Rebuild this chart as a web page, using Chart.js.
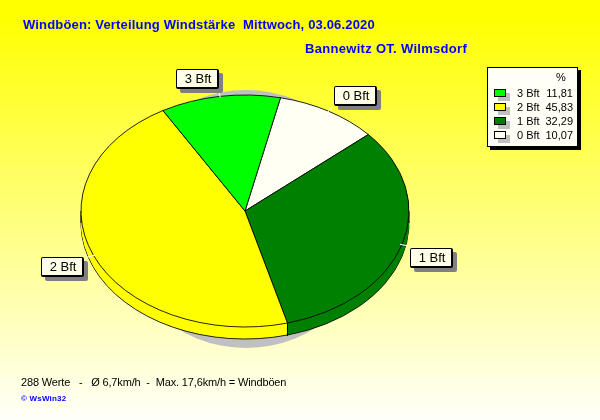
<!DOCTYPE html>
<html>
<head>
<meta charset="utf-8">
<script src="https://cdn.jsdelivr.net/npm/chart.js@4"></script>
<style>
    html, body { margin: 0; padding: 0; }
    body { width: 600px; height: 420px; position: relative; overflow: hidden; background: linear-gradient(to bottom, #ffff00 0px, #ffff00 15px, #fffffa 420px); font-family: "Liberation Sans", Arial, sans-serif; }
    canvas { position: absolute; left: 0; top: 0; }
    .txt { position: absolute; white-space: pre; line-height: 14px; }
    .title { color: #0000ff; font-weight: bold; font-size: 13px; }
    .tag { position: absolute; box-sizing: border-box; width: 43px; height: 20px; background: #ffffe8; border: 1px solid #000; border-right-width: 2px; border-bottom-width: 2px; border-radius: 2px; box-shadow: 4px 4px 0 #808080; font-size: 13px; line-height: 17px; text-align: center; color: #000; padding-left: 2px; }
    #legend { position: absolute; left: 487px; top: 67px; width: 91px; height: 80px; box-sizing: border-box; background: #fffff6; border: 1px solid #000; box-shadow: 3px 3px 0 #000; font-size: 11px; color: #000; }
    #legend .swatch { position: absolute; box-sizing: border-box; left: 6px; width: 12px; height: 8px; border: 1px solid #000; box-shadow: 4px 4px 0 #c0c0c0; }
    #legend .name { position: absolute; left: 29px; line-height: 14px; }
    #legend .pct { position: absolute; right: 4px; line-height: 14px; }
</style>
</head>
<body>
<canvas id="pie" width="600" height="420"></canvas>
<div class="txt title" style="left:23px; top:18px; letter-spacing:0.17px;">Windböen: Verteilung Windstärke  Mittwoch, 03.06.2020</div>
<div class="txt title" style="left:305px; top:42px; letter-spacing:0.3px;">Bannewitz OT. Wilmsdorf</div>
<div class="txt" style="left:21px; top:375px; font-size:11px; color:#000; letter-spacing:-0.15px;">288 Werte   -   Ø 6,7km/h  -  Max. 17,6km/h = Windböen</div>
<div class="txt" style="left:21px; top:392px; font-size:8px; font-weight:bold; color:#0000ff; letter-spacing:0.2px;">© WsWin32</div>
<div id="legend"></div>
<script>
// legend order, top to bottom
const categories = ['3 Bft', '2 Bft', '1 Bft', '0 Bft'];
const percents = [11.81, 45.83, 32.29, 10.07];
const sliceColors = ['#00ff00', '#ffff00', '#008000', '#fffff4'];
const tagLeft = [176, 41, 410, 334];
const tagTop = [69, 257, 248, 86];

const SQUASH = 116 / 164;   // pie is drawn as a flat ellipse
const DEPTH = 12;
const CY = 211;

// legend + slice tags
const legend = document.getElementById('legend');
let html = '<div class="name" style="left:68px; top:2px;">%</div>';
categories.forEach((c, i) => {
    const top = 21 + i * 14;
    html += `<div class="swatch" style="top:${top}px; background:${sliceColors[i]};"></div>`;
    html += `<div class="name" style="top:${top - 3}px;">${c}</div>`;
    html += `<div class="pct" style="top:${top - 3}px;">${percents[i].toFixed(2).replace('.', ',')}</div>`;
});
legend.innerHTML = html;

categories.forEach((c, i) => {
    const tag = document.createElement('div');
    tag.className = 'tag';
    tag.style.left = tagLeft[i] + 'px';
    tag.style.top = tagTop[i] + 'px';
    tag.textContent = c;
    document.body.appendChild(tag);
});

function flatten(ctx, dy) {
    ctx.translate(0, CY + dy);
    ctx.scale(1, SQUASH);
    ctx.translate(0, -CY);
}

// 3D rim and drop shadow, made from the chart's own arc elements
const pie3d = {
    id: 'pie3d',
    beforeDatasetsDraw(chart) {
        const ctx = chart.ctx;
        const arcs = chart.getDatasetMeta(0).data;
        const cx = arcs[0].x;
        const r = arcs[0].outerRadius;

        // shadow
        ctx.save();
        ctx.fillStyle = '#c0c0c0';
        ctx.beginPath();
        ctx.ellipse(cx + 1, CY + 8, 130, 129, 0, 0, Math.PI * 2);
        ctx.fill();
        ctx.restore();

        // bottom outline
        ctx.save();
        flatten(ctx, DEPTH);
        arcs.forEach(a => a.draw(ctx));
        ctx.restore();

        // body of the rim
        for (let d = DEPTH - 1; d > 0; d--) {
            ctx.save();
            flatten(ctx, d);
            arcs.forEach(a => {
                const bw = a.options.borderWidth;
                a.options.borderWidth = 0;
                a.draw(ctx);
                a.options.borderWidth = bw;
            });
            ctx.restore();
        }

        // visible edges of the rim
        ctx.save();
        ctx.strokeStyle = '#000';
        ctx.lineWidth = 1;
        ctx.beginPath();
        [cx - r, cx + r].forEach(x => {
            ctx.moveTo(x, CY);
            ctx.lineTo(x, CY + DEPTH);
        });
        arcs.forEach(a => {
            const s = Math.sin(a.endAngle), c = Math.cos(a.endAngle);
            if (s > 0) {
                const x = cx + r * c, y = CY + r * s * SQUASH;
                ctx.moveTo(x, y);
                ctx.lineTo(x, y + DEPTH + 1);
            }
        });
        ctx.stroke();
        ctx.restore();

        ctx.save();
        flatten(ctx, 0);
    },
    afterDatasetsDraw(chart) {
        const ctx = chart.ctx;
        ctx.restore();

        // white ticks from each slice towards its tag
        const arcs = chart.getDatasetMeta(0).data;
        ctx.save();
        ctx.strokeStyle = '#ffffff';
        ctx.lineWidth = 1;
        ctx.beginPath();
        arcs.forEach(a => {
            const mid = (a.startAngle + a.endAngle) / 2;
            const c = Math.cos(mid), s = Math.sin(mid);
            ctx.moveTo(a.x + (a.outerRadius - 2) * c, CY + (a.outerRadius - 2) * s * SQUASH);
            ctx.lineTo(a.x + (a.outerRadius + 7) * c, CY + (a.outerRadius + 7) * s * SQUASH);
        });
        ctx.stroke();
        ctx.restore();
    }
};

new Chart(document.getElementById('pie'), {
    type: 'pie',
    plugins: [pie3d],
    data: {
        labels: categories.slice().reverse(),
        datasets: [{
            data: percents.slice().reverse(),
            backgroundColor: sliceColors.slice().reverse(),
            borderColor: '#000',
            borderWidth: 1,
            borderAlign: 'center'
        }]
    },
    options: {
        responsive: false,
        animation: false,
        rotation: 12.5,
        radius: 164,
        layout: { padding: { left: 81, right: 191, top: 47, bottom: 45 } },
        plugins: { legend: { display: false }, tooltip: { enabled: false } }
    }
});
</script>
</body>
</html>
